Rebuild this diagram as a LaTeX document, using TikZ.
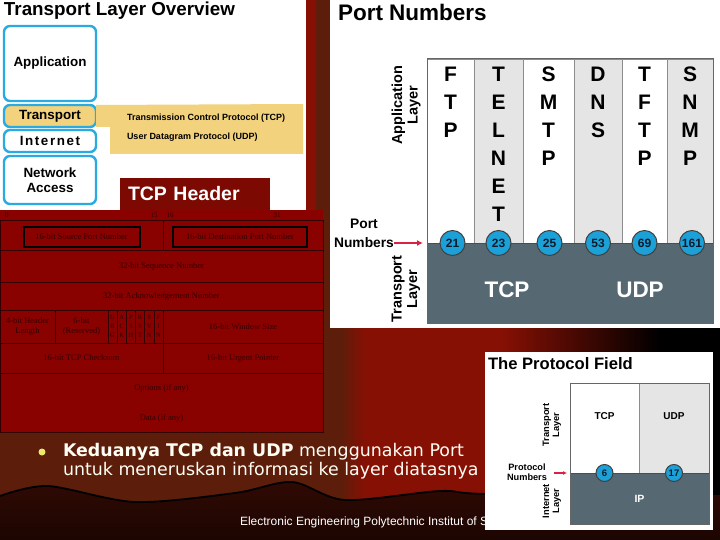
\documentclass[tikz,border=0pt]{standalone}
\usepackage{fontspec}
\setmainfont{Liberation Sans}
\newfontfamily\hdrfont{Liberation Serif}
\newfontfamily\bulfont{DejaVu Sans}
\usetikzlibrary{positioning, arrows.meta, calc}

\definecolor{bgred}{RGB}{135,16,4}
\definecolor{bgbrown}{RGB}{92,30,10}
\definecolor{bgdark}{RGB}{48,10,4}
\definecolor{bgdeep}{RGB}{28,5,2}
\definecolor{layercyan}{RGB}{41,170,225}
\definecolor{layertan}{RGB}{242,210,125}
\definecolor{hdrred}{RGB}{138,2,0}
\definecolor{hdrink}{RGB}{50,0,0}
\definecolor{labelred}{RGB}{125,10,2}
\definecolor{colgray}{RGB}{229,229,229}
\definecolor{slate}{RGB}{86,104,114}
\definecolor{portblue}{RGB}{28,160,216}
\definecolor{portink}{RGB}{10,28,45}
\definecolor{arrowred}{RGB}{215,35,65}
\definecolor{bulyellow}{RGB}{235,232,110}

\tikzset{
    panel/.style={fill=white, draw=none, anchor=north west},
    ptitle/.style={anchor=base west, font=\bfseries, text=black},
    layerbox/.style={
        draw=layercyan, line width=2.4pt, rounded corners=6pt,
        fill=white, minimum width=92pt, align=center,
        font=\fontsize{13.4}{15.5}\selectfont\bfseries
    },
    hdrcell/.style={
        draw=hdrink, line width=0.7pt, fill=hdrred,
        anchor=north west, align=center, text=hdrink,
        font=\hdrfont\fontsize{8.5}{9.5}\selectfont
    },
    hdrbit/.style={text=hdrink, font=\hdrfont\fontsize{7}{7}\selectfont},
    hdrflag/.style={hdrcell, minimum width=9.17pt, minimum height=33pt,
        font=\hdrfont\fontsize{6.5}{9}\selectfont},
    hdrbox/.style={draw=black, line width=2pt, text=hdrink,
        font=\hdrfont\fontsize{8.5}{9.5}\selectfont},
    pcolw/.style={draw=black!45, line width=0.8pt, fill=white,
        minimum height=184pt, anchor=north west},
    pcolg/.style={pcolw, fill=colgray},
    pletter/.style={align=center, font=\fontsize{21}{28}\selectfont\bfseries},
    portnum/.style={
        circle, draw=black!75, line width=1pt, fill=portblue,
        minimum size=25pt, text=portink,
        font=\fontsize{12}{12}\selectfont\bfseries
    },
    sidelbl/.style={rotate=90, align=center,
        font=\fontsize{14.5}{15.5}\selectfont\bfseries},
    slatetxt/.style={text=white, font=\fontsize{22.5}{22.5}\selectfont\bfseries},
    pnarrow/.style={-{Latex[length=6pt, width=6pt]}, draw=arrowred, line width=1.8pt},
}

\begin{document}
\begin{tikzpicture}[x=1pt, y=-1pt, inner sep=0pt, outer sep=0pt]
\useasboundingbox (0,0) rectangle (720,540);

% ---- Slide background ----
\fill[bgred] (0,0) rectangle (720,540);
\fill[bgbrown] (0,210) rectangle (340,540);
\fill[bgbrown] (316,0) rectangle (340,210);
\shade[left color=bgbrown, right color=bgred] (340,0) rectangle (365,540);
\shade[left color=bgred, right color=black] (500,0) rectangle (660,540);
\fill[black] (660,0) rectangle (720,540);
\shade[top color=bgdark, bottom color=bgdeep]
    plot[smooth] coordinates {(0,496) (48,486) (135,502) (235,493) (292,482)
        (345,500) (440,491) (490,494) (720,494)}
    -- (720,540) -- (0,540) -- cycle;
\draw[black, line width=1.8pt]
    plot[smooth] coordinates {(0,496) (48,486) (135,502) (235,493) (292,482)
        (345,500) (440,491) (490,494) (720,494)};

% ---- Bullet text and footer ----
\fill[bulyellow] (42,452) circle (3.5);
\node[anchor=north west, align=left, text=white!96!yellow,
      font=\bulfont\fontsize{17.4}{19.5}\selectfont] (bul-txt) at (63,443)
    {\textbf{Keduanya TCP dan UDP} menggunakan Port\\
     untuk meneruskan informasi ke layer diatasnya};
\node[anchor=base west, text=white, font=\fontsize{12}{12}\selectfont]
    (foot) at (240,525) {Electronic Engineering Polytechnic Institut of S};

% ---- Panel 1: transport layer overview ----
\node[panel, minimum width=306pt, minimum height=210pt] (ov-bg) at (0,0) {};
\node[ptitle, font=\fontsize{18.8}{18.8}\selectfont\bfseries] (ov-title) at (4,15.5)
    {Transport Layer Overview};
\node[layerbox, minimum height=75pt] (ov-app) at (50,63.5) {Application};
\node[layerbox, minimum height=22pt, fill=layertan, below=4pt of ov-app] (ov-trn) {Transport};
\node[layerbox, minimum height=22pt, below=3pt of ov-trn] (ov-int)
    {\addfontfeature{LetterSpace=12}Internet};
\node[layerbox, minimum height=48pt, below=4pt of ov-int] (ov-net) {Network\\Access};
\fill[layertan] (ov-trn.north east) -- (303,104) -- (303,154) -- (110,154)
    -- (110,127) -- (ov-trn.south east) -- cycle;
\node[anchor=west, align=left, font=\fontsize{9}{19}\selectfont\bfseries]
    (ov-proto) at (127,127.5)
    {Transmission Control Protocol (TCP)\\User Datagram Protocol (UDP)};

% ---- TCP header table ----
\node[anchor=north west, fill=hdrred, minimum width=323pt, minimum height=222pt]
    (th-bg) at (0,210) {};
\node[hdrbit] (th-b0) at (7,215) {0};
\node[hdrbit] (th-b15) at (154,215) {15};
\node[hdrbit] (th-b16) at (170,215) {16};
\node[hdrbit] (th-b31) at (277,215) {31};
\node[hdrcell, minimum width=163pt, minimum height=30pt] (th-r1a) at (0,220) {};
\node[hdrcell, minimum width=160pt, minimum height=30pt] (th-r1b) at (163,220) {};
\node[hdrbox, minimum width=116pt, minimum height=20pt] (th-src)
    at ([yshift=-2pt]th-r1a.center) {16-bit Source Port Number};
\node[hdrbox, minimum width=134pt, minimum height=20pt] (th-dst)
    at ([xshift=-3pt, yshift=-2pt]th-r1b.center) {16-bit Destination Port Number};
\node[hdrcell, minimum width=323pt, minimum height=32pt] (th-seq) at (0,250)
    {32-bit Sequence Number};
\node[hdrcell, minimum width=323pt, minimum height=28pt] (th-ack) at (0,282)
    {32-bit Acknowledgement Number};
\node[hdrcell, minimum width=55pt, minimum height=33pt] (th-hlen) at (0,310)
    {4-bit Header\\Length};
\node[hdrcell, minimum width=53pt, minimum height=33pt] (th-resv) at (55,310)
    {6-bit\\(Reserved)};
\node[hdrflag] (th-f1) at (108,310) {U\\R\\G};
\node[hdrflag, right=0pt of th-f1] (th-f2) {A\\C\\K};
\node[hdrflag, right=0pt of th-f2] (th-f3) {P\\S\\H};
\node[hdrflag, right=0pt of th-f3] (th-f4) {R\\S\\T};
\node[hdrflag, right=0pt of th-f4] (th-f5) {S\\Y\\N};
\node[hdrflag, right=0pt of th-f5] (th-f6) {F\\I\\N};
\node[hdrcell, minimum width=160pt, minimum height=33pt] (th-win) at (163,310)
    {16-bit Window Size};
\node[hdrcell, minimum width=163pt, minimum height=30pt] (th-csum) at (0,343)
    {16-bit TCP Checksum};
\node[hdrcell, minimum width=160pt, minimum height=30pt] (th-urgp) at (163,343)
    {16-bit Urgent Pointer};
\node[hdrcell, minimum width=323pt, minimum height=59pt] (th-rest) at (0,373) {};
\node[text=hdrink, font=\hdrfont\fontsize{8.5}{9.5}\selectfont] (th-opt)
    at (161.5,388) {Options (if any)};
\node[text=hdrink, font=\hdrfont\fontsize{8.5}{9.5}\selectfont] (th-data)
    at (161.5,418) {Data (if any)};

\node[anchor=north west, fill=labelred, text=white, minimum height=32pt,
      text width=134pt, inner xsep=8pt, align=left,
      font=\fontsize{19.5}{19.5}\selectfont\bfseries] (th-label) at (120,178)
    {TCP Header};

% ---- Panel 2: port numbers ----
\node[panel, minimum width=390pt, minimum height=328pt] (pn-bg) at (330,0) {};
\node[ptitle, font=\fontsize{22.5}{22.5}\selectfont\bfseries] (pn-title) at (338,21)
    {Port Numbers};
\node[pcolw, minimum width=47pt] (pn-ftp) at (427,59) {};
\node[pcolg, minimum width=49pt, right=0pt of pn-ftp] (pn-tel) {};
\node[pcolw, minimum width=51pt, right=0pt of pn-tel] (pn-smtp) {};
\node[pcolg, minimum width=48pt, right=0pt of pn-smtp] (pn-dns) {};
\node[pcolw, minimum width=45pt, right=0pt of pn-dns] (pn-tftp) {};
\node[pcolg, minimum width=46pt, right=0pt of pn-tftp] (pn-snmp) {};
\node[pletter, below=8pt of pn-ftp.north] (pn-ftp-t) {F\\T\\P};
\node[pletter, below=8pt of pn-tel.north] (pn-tel-t) {T\\E\\L\\N\\E\\T};
\node[pletter, below=8pt of pn-smtp.north] (pn-smtp-t) {S\\M\\T\\P};
\node[pletter, below=8pt of pn-dns.north] (pn-dns-t) {D\\N\\S};
\node[pletter, below=8pt of pn-tftp.north] (pn-tftp-t) {T\\F\\T\\P};
\node[pletter, below=8pt of pn-snmp.north] (pn-snmp-t) {S\\N\\M\\P};
\node[anchor=north west, fill=slate, draw=black!70, line width=0.8pt,
      minimum width=286pt, minimum height=80pt] (pn-tl) at (427,243) {};
\draw[black!60, line width=1pt] (pn-ftp.north west) rectangle (pn-tl.south east);
\node[slatetxt] (pn-tcp) at (507,290) {TCP};
\node[slatetxt] (pn-udp) at (640,290) {UDP};
\node[portnum] (pn-p21) at ([xshift=2pt]pn-ftp.south) {21};
\node[portnum] (pn-p23) at (pn-tel.south) {23};
\node[portnum] (pn-p25) at ([xshift=1pt]pn-smtp.south) {25};
\node[portnum] (pn-p53) at (pn-dns.south) {53};
\node[portnum] (pn-p69) at (pn-tftp.south) {69};
\node[portnum] (pn-p161) at ([xshift=2pt]pn-snmp.south) {161};
\node[sidelbl] (pn-app) at (406,105) {Application\\Layer};
\node[sidelbl] (pn-trl) at (406,289) {Transport\\Layer};
\node[align=center, font=\fontsize{13.8}{19}\selectfont\bfseries] (pn-lbl)
    at (364,233) {Port\\Numbers};
\draw[pnarrow] ([xshift=-33pt]pn-ftp.south west) -- ([xshift=-4pt]pn-ftp.south west);

% ---- Panel 3: the protocol field ----
\node[panel, minimum width=228pt, minimum height=178pt] (pf-bg) at (485,352) {};
\node[ptitle, font=\fontsize{16.6}{16.6}\selectfont\bfseries] (pf-title) at (488,369)
    {The Protocol Field};
\node[pcolw, minimum width=69pt, minimum height=90pt] (pf-tcp) at (570,383) {};
\node[pcolg, minimum width=70pt, minimum height=90pt, right=0pt of pf-tcp] (pf-udp) {};
\node[anchor=north west, fill=slate, draw=black!70, line width=0.8pt,
      minimum width=139pt, minimum height=51pt, text=white,
      font=\fontsize{10.5}{10.5}\selectfont\bfseries] (pf-ip) at (570,473) {IP};
\draw[black!60, line width=1pt] (pf-tcp.north west) rectangle (pf-ip.south east);
\node[font=\fontsize{10}{10}\selectfont\bfseries, below=30pt of pf-tcp.north] (pf-tcp-t) {TCP};
\node[font=\fontsize{10}{10}\selectfont\bfseries, below=30pt of pf-udp.north] (pf-udp-t) {UDP};
\node[portnum, minimum size=17pt, font=\fontsize{9.5}{9.5}\selectfont\bfseries]
    (pf-p6) at (pf-tcp.south) {6};
\node[portnum, minimum size=17pt, font=\fontsize{9.5}{9.5}\selectfont\bfseries]
    (pf-p17) at (pf-udp.south) {17};
\node[sidelbl, font=\fontsize{9.3}{10}\selectfont\bfseries] (pf-trl) at (552,425)
    {Transport\\Layer};
\node[sidelbl, font=\fontsize{9.3}{10}\selectfont\bfseries] (pf-inl) at (552,501)
    {Internet\\Layer};
\node[align=center, font=\fontsize{9.2}{10.5}\selectfont\bfseries] (pf-lbl)
    at (527,472) {Protocol\\Numbers};
\draw[pnarrow, line width=1.2pt, -{Latex[length=4pt, width=4pt]}]
    ([xshift=-16pt]pf-ip.north west) -- ([xshift=-3pt]pf-ip.north west);

\end{tikzpicture}
\end{document}
